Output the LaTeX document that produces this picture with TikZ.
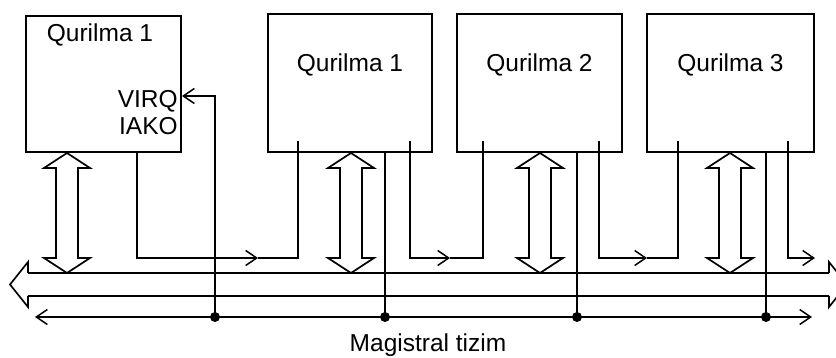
\documentclass[tikz,border=0pt]{standalone}
\usepackage{fontspec}
\setmainfont{Liberation Sans}
\usetikzlibrary{arrows.meta}

\begin{document}
\begin{tikzpicture}[x=1pt,y=-1pt,line width=2pt,font=\fontsize{24.5}{27}\selectfont,
  box/.style={draw,inner sep=0pt},
  barb/.style={-{Straight Barb[length=11pt,width=15pt,line width=1.5pt]}},
  hollow/.style={line width=1.7pt,line join=miter}]
  \useasboundingbox (0,0) rectangle (836,358);
  % devices
  \node[box,minimum width=155pt,minimum height=136pt] (qa) at (103.5,84) {};
  \node[box,minimum width=164pt,minimum height=138pt] (qb) at (350,83) {};
  \node[box,minimum width=165pt,minimum height=138pt] (qc) at (539.5,83) {};
  \node[box,minimum width=167pt,minimum height=138pt] (qd) at (730.5,83) {};
  \node (ta) at (100,35) {Qurilma 1};
  \node[anchor=east,align=right] (tsig) at (qa.east |- 0,113) {VIRQ\\IAKO};
  \node (tb) at (qb |- 0,65) {Qurilma 1};
  \node (tc) at (qc |- 0,65) {Qurilma 2};
  \node (td) at (qd |- 0,65) {Qurilma 3};
  % bus
  \draw (28,273) -- (829,273);
  \draw (28,296) -- (829,296);
  \draw[hollow] (28,273) -- (28,262) -- (10,284.5) -- (28,307) -- (28,296);
  \draw[hollow] (829,273) -- (829,262) -- (847,284.5) -- (829,307) -- (829,296);
  \coordinate (bw) at (35,317);
  \coordinate (be) at (812,317);
  \draw[{Straight Barb[length=11pt,width=15pt,line width=1.5pt]}-{Straight Barb[length=11pt,width=15pt,line width=1.5pt]}] (bw) -- (be);
  \node (tbus) at (428,345) {Magistral tizim};
  % data exchange
  \foreach \cx in {67,351,540,730}
    \draw[hollow] (\cx,153) -- ++(23,15) -- ++(-12,0) -- (\cx+11,258) -- ++(12,0) -- (\cx,273)
      -- ++(-23,-15) -- ++(12,0) -- (\cx-11,168) -- ++(-12,0) -- cycle;
  % interrupt request
  \foreach \x/\n in {215/a,385/b,577/c,766/d} {
    \coordinate (j\n) at (\x,317);
    \fill (j\n) circle[radius=5pt];
  }
  \draw[barb] (ja) |- (qa.east |- 0,96);
  \draw (qb.south -| jb) -- (jb);
  \draw (qc.south -| jc) -- (jc);
  \draw (qd.south -| jd) -- (jd);
  % acknowledge chain
  \draw[barb] (qa.south -| 137,0) |- (258,258);
  \draw (258,258) -| (298,141);
  \foreach \xa/\xm/\xb in {410/450/483,599/647/678} {
    \draw[barb] (\xa,141) |- (\xm,258);
    \draw (\xm,258) -| (\xb,141);
  }
  \draw[barb] (788,141) |- (815,258);
\end{tikzpicture}
\end{document}
